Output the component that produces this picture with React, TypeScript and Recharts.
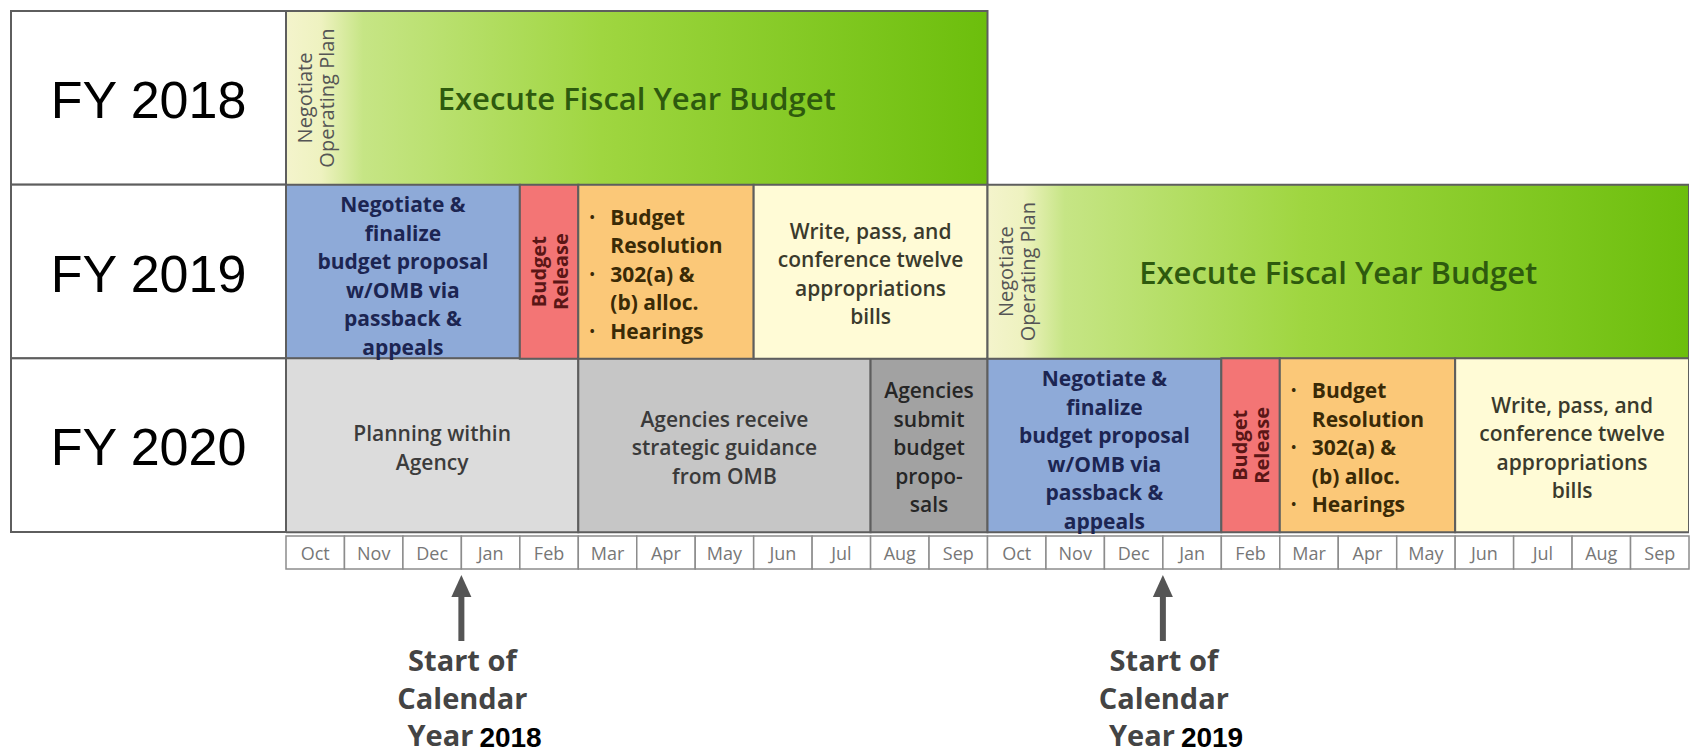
import { Bar, BarChart, Cell, XAxis, YAxis } from 'recharts'

const fiscalYears = ['FY 2018', 'FY 2019', 'FY 2020']
const months = [
  'Oct', 'Nov', 'Dec', 'Jan', 'Feb', 'Mar', 'Apr', 'May', 'Jun', 'Jul', 'Aug', 'Sep',
  'Oct', 'Nov', 'Dec', 'Jan', 'Feb', 'Mar', 'Apr', 'May', 'Jun', 'Jul', 'Aug', 'Sep',
]
const fy2018Phases = ['execute']
const fy2018Months = [12]
const fy2019Phases = ['negotiate', 'release', 'resolution', 'appropriations', 'execute']
const fy2019Months = [4, 1, 3, 4, 12]
const fy2020Phases = ['planning', 'guidance', 'submit', 'negotiate', 'release', 'resolution', 'appropriations']
const fy2020Months = [5, 5, 2, 4, 1, 3, 4]
const calendarStarts = [3, 15]
const calendarYears = ['2018', '2019']

const executeText = ['Execute Fiscal Year Budget']
const operatingPlanText = ['Negotiate', 'Operating Plan']
const negotiateText = ['Negotiate &', 'finalize', 'budget proposal', 'w/OMB via', 'passback &', 'appeals']
const releaseText = ['Budget', 'Release']
const resolutionText = ['Budget', 'Resolution', '302(a) &', '(b) alloc.', 'Hearings']
const resolutionBullets = [true, false, true, false, true]
const appropriationsText = ['Write, pass, and', 'conference twelve', 'appropriations', 'bills']
const planningText = ['Planning within', 'Agency']
const guidanceText = ['Agencies receive', 'strategic guidance', 'from OMB']
const submitText = ['Agencies', 'submit', 'budget', 'propo-', 'sals']
const calendarText = ['Start of', 'Calendar', 'Year']

const rowPhases = [fy2018Phases, fy2019Phases, fy2020Phases]
const rowMonths = [fy2018Months, fy2019Months, fy2020Months]
const SERIES = [0, 1, 2, 3, 4, 5, 6]

const W = 1694
const H = 754
const MARGIN = { top: 11, right: 5, bottom: 0, left: 11 }
const YAXIS_W = 275
const MONTH_AXIS_H = 40
const CAL_AXIS_H = 182
const PLOT_W = W - MARGIN.left - MARGIN.right - YAXIS_W
const PLOT_H = H - MARGIN.top - MONTH_AXIS_H - CAL_AXIS_H
const BAND_H = PLOT_H / fiscalYears.length
const MONTH_W = PLOT_W / months.length

const SANS = '"Open Sans", "DejaVu Sans", sans-serif'
const ARIAL = '"Liberation Sans", Arial, sans-serif'
const BORDER = '#5e5e5e'

const FILLS: Record<string, string> = {
  execute: 'url(#execGrad)',
  negotiate: '#8eaad8',
  release: '#f37575',
  resolution: '#fbc878',
  appropriations: '#fffbd6',
  planning: '#dcdcdc',
  guidance: '#c6c6c6',
  submit: '#a2a2a2',
}

const INK: Record<string, string> = {
  execute: '#2e5a0e',
  negotiate: '#1c2552',
  release: '#5a1616',
  resolution: '#3a2a06',
  appropriations: '#3a3a2c',
  planning: '#3c3c3c',
  guidance: '#3a3a3a',
  submit: '#262626',
}

const CENTERED: Record<string, string[]> = {
  negotiate: negotiateText,
  appropriations: appropriationsText,
  planning: planningText,
  guidance: guidanceText,
  submit: submitText,
}

const LINE_H = 28.5

const data = fiscalYears.map((fy, r) => {
  const row: Record<string, string | number> = { fy }
  rowMonths[r].forEach((m, i) => {
    row['s' + i] = m
  })
  return row
})

function PhaseLabel(props: any, series: number) {
  const { x, y, width, height } = props
  if (!width || !height) return null
  // the label index skips empty rects, so find the row from the band position
  const row = Math.floor((y + height / 2 - MARGIN.top) / BAND_H)
  const kind = rowPhases[row]?.[series]
  if (!kind) return null
  const cx = x + width / 2
  const cy = y + height / 2
  const ink = INK[kind]

  if (kind === 'execute') {
    return (
      <g>
        <text x={cx} y={cy} textAnchor="middle" dominantBaseline="central" fontFamily={SANS} fontWeight={600} fontSize={31} fill={ink}>
          {executeText[0]}
        </text>
        {operatingPlanText.map((t, i) => (
          <text key={i} transform={`translate(${x + 18 + i * 22},${cy}) rotate(-90)`} textAnchor="middle" dominantBaseline="central" fontFamily={SANS} fontSize={20} fill="#555">
            {t}
          </text>
        ))}
      </g>
    )
  }
  if (kind === 'release') {
    return (
      <g>
        {releaseText.map((t, i) => (
          <text key={i} transform={`translate(${cx - 11 + i * 22},${cy}) rotate(-90)`} textAnchor="middle" dominantBaseline="central" fontFamily={SANS} fontWeight={700} fontSize={20} fill={ink}>
            {t}
          </text>
        ))}
      </g>
    )
  }
  if (kind === 'resolution') {
    const top = cy - ((resolutionText.length - 1) / 2) * LINE_H + 2
    return (
      <g>
        {resolutionText.map((t, i) => (
          <g key={i}>
            {resolutionBullets[i] && (
              <text x={x + 14} y={top + i * LINE_H} textAnchor="middle" dominantBaseline="central" fontFamily={SANS} fontWeight={700} fontSize={13} fill={ink}>
                •
              </text>
            )}
            <text x={x + 32} y={top + i * LINE_H} dominantBaseline="central" fontFamily={SANS} fontWeight={700} fontSize={21} fill={ink}>
              {t}
            </text>
          </g>
        ))}
      </g>
    )
  }
  const lines = CENTERED[kind]
  const shift = kind === 'negotiate' ? 4 : 2
  const top = cy - ((lines.length - 1) / 2) * LINE_H + shift
  return (
    <g>
      {lines.map((t, i) => (
        <text key={i} x={cx} y={top + i * LINE_H} textAnchor="middle" dominantBaseline="central" fontFamily={SANS} fontWeight={kind === 'negotiate' ? 700 : 600} fontSize={21} fill={ink}>
          {t}
        </text>
      ))}
    </g>
  )
}

function YearTick({ x, y, payload }: any) {
  return (
    <g>
      <rect x={MARGIN.left} y={y - BAND_H / 2} width={x - MARGIN.left} height={BAND_H} fill="#fff" stroke={BORDER} strokeWidth={2} />
      <text x={(MARGIN.left + x) / 2} y={y + 2} textAnchor="middle" dominantBaseline="central" fontFamily={ARIAL} fontSize={52} fill="#000">
        {payload.value}
      </text>
    </g>
  )
}

function MonthTick({ x, y, payload }: any) {
  const i = Math.floor(payload.value)
  return (
    <g>
      <rect x={x - MONTH_W / 2} y={y + 4} width={MONTH_W} height={33} fill="#fff" stroke="#8c8c8c" strokeWidth={1.5} />
      <text x={x} y={y + 21} textAnchor="middle" dominantBaseline="central" fontFamily={SANS} fontSize={18} fill="#777">
        {months[i]}
      </text>
    </g>
  )
}

function CalendarTick({ x, y, payload }: any) {
  const i = calendarStarts.indexOf(payload.value)
  const top = y + 3
  return (
    <g>
      <line x1={x} x2={x} y1={top + 16} y2={top + 66} stroke="#555" strokeWidth={6} />
      <polygon points={`${x},${top} ${x - 10},${top + 22} ${x + 10},${top + 22}`} fill="#555" />
      <text x={x + 1} y={y + 99} textAnchor="middle" fontFamily={SANS} fontWeight={700} fontSize={29} fill="#444">
        {calendarText[0]}
      </text>
      <text x={x + 1} y={y + 137} textAnchor="middle" fontFamily={SANS} fontWeight={700} fontSize={29} fill="#444">
        {calendarText[1]}
      </text>
      <text x={x + 12} y={y + 174} textAnchor="end" fontFamily={SANS} fontWeight={700} fontSize={29} fill="#444">
        {calendarText[2]}
      </text>
      <text x={x + 18} y={y + 175} textAnchor="start" fontFamily={ARIAL} fontWeight={700} fontSize={28} fill="#000">
        {calendarYears[i]}
      </text>
    </g>
  )
}

export default function App() {
  return (
    <div style={{ position: 'absolute', left: 0, top: 0, background: '#fff' }}>
      <BarChart
        width={W}
        height={H}
        data={data}
        layout="vertical"
        margin={MARGIN}
        barCategoryGap={0}
        barGap={0}
      >
        <defs>
          <linearGradient id="execGrad" x1="0" y1="0" x2="1" y2="0">
            <stop offset="0%" stopColor="#f4f4cc" />
            <stop offset="5%" stopColor="#eef2c0" />
            <stop offset="11%" stopColor="#c6e585" />
            <stop offset="45%" stopColor="#9fd640" />
            <stop offset="100%" stopColor="#6cbe0c" />
          </linearGradient>
        </defs>
        <XAxis
          type="number"
          domain={[0, 24]}
          allowDataOverflow
          ticks={months.map((_, i) => i + 0.5)}
          interval={0}
          tick={<MonthTick />}
          tickSize={0}
          tickMargin={0}
          axisLine={false}
          tickLine={false}
          height={MONTH_AXIS_H}
        />
        <XAxis
          xAxisId="cal"
          type="number"
          domain={[0, 24]}
          allowDataOverflow
          ticks={calendarStarts}
          interval={0}
          tick={<CalendarTick />}
          tickSize={0}
          tickMargin={0}
          axisLine={false}
          tickLine={false}
          height={CAL_AXIS_H}
        />
        <YAxis
          type="category"
          dataKey="fy"
          width={YAXIS_W}
          tick={<YearTick />}
          tickSize={0}
          tickMargin={0}
          axisLine={false}
          tickLine={false}
        />
        {SERIES.map((s) => (
          <Bar
            key={s}
            dataKey={'s' + s}
            stackId="plan"
            stroke={BORDER}
            strokeWidth={2}
            isAnimationActive={false}
            label={(p: any) => PhaseLabel(p, s)}
          >
            {fiscalYears.map((_, r) => {
              const kind = rowPhases[r][s]
              return <Cell key={r} fill={kind ? FILLS[kind] : 'none'} />
            })}
          </Bar>
        ))}
      </BarChart>
    </div>
  )
}
